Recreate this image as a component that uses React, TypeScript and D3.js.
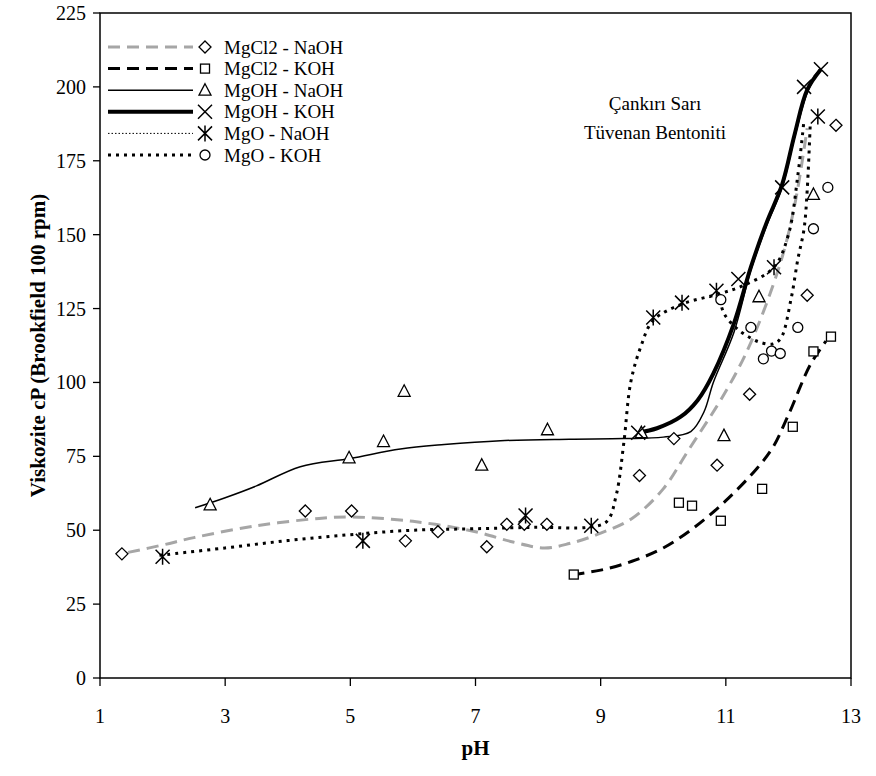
import * as d3 from 'd3';
import React from 'react';

// pH / viscosity readings, one pair of arrays per series
const mgcl2NaohPH = [1.35, 4.28, 5.02, 5.88, 6.4, 7.18, 7.5, 7.78, 8.14, 9.62, 10.17, 10.86, 11.38, 12.3, 12.76];
const mgcl2NaohV = [42, 56.5, 56.5, 46.4, 49.5, 44.4, 52, 52, 52, 68.5, 81, 72, 96, 129.5, 187];

const mgcl2KohPH = [8.57, 10.25, 10.46, 10.92, 11.58, 12.07, 12.4, 12.68];
const mgcl2KohV = [35, 59.3, 58.3, 53.2, 64, 85, 110.5, 115.5];

const mgohNaohPH = [2.76, 4.98, 5.53, 5.86, 7.1, 8.15, 9.65, 10.97, 11.53, 12.4];
const mgohNaohV = [58.6, 74.5, 80, 97, 72, 84, 83, 82, 129, 163.6];

const mgohKohPH = [9.6, 11.2, 11.9, 12.25, 12.52];
const mgohKohV = [83, 135, 166, 200, 206];

const mgoNaohPH = [2.0, 5.2, 7.8, 8.85, 9.84, 10.3, 10.85, 11.77, 12.47];
const mgoNaohV = [41, 46.4, 55, 51.5, 122, 127, 131, 139, 190];

const mgoKohPH = [10.92, 11.4, 11.6, 11.73, 11.87, 12.15, 12.4, 12.63];
const mgoKohV = [128, 118.6, 108, 110.6, 109.8, 118.6, 152, 166];

// fitted curves as drawn in the figure
const fitMgcl2NaohPH = [1.45, 2.0, 2.5, 3.5, 4.5, 5.0, 6.0, 7.0, 7.6, 8.1, 8.5, 9.0, 9.5, 10.0, 10.4, 11.0, 11.4, 11.88, 12.1, 12.3];
const fitMgcl2NaohV = [42.5, 45, 47.5, 51.5, 54, 54.5, 53, 49.5, 46, 44, 45.5, 49, 54, 64, 77, 97, 113.5, 141, 160, 186];

const fitMgcl2KohPH = [8.55, 9.0, 9.5, 10.0, 10.5, 11.0, 11.5, 11.75, 12.0, 12.35, 12.6];
const fitMgcl2KohV = [35, 36.5, 39.5, 44, 51, 60, 71, 78, 89, 106, 114];

const fitMgohNaohPH = [2.52, 3.0, 3.5, 4.2, 5.0, 5.8, 6.5, 7.4, 8.5, 9.37, 10.0, 10.44, 10.65, 10.8, 11.13, 11.4, 11.65, 11.9, 12.1, 12.3, 12.5];
const fitMgohNaohV = [57.6, 61, 65, 71.5, 74.3, 77.5, 79, 80.3, 80.8, 81, 81.5, 83.4, 90, 100, 117, 138, 153, 166, 183, 198, 206];

const fitMgohKohPH = [9.6, 9.9, 10.28, 10.55, 10.8, 11.13, 11.4, 11.65, 11.9, 12.1, 12.3, 12.52];
const fitMgohKohV = [83, 84.5, 88.4, 94, 103, 120, 139, 154, 167, 184, 199, 206];

const fitMgoNaohPH = [1.95, 3.0, 4.0, 5.0, 6.0, 7.0, 8.0, 8.8, 9.1, 9.25, 9.37, 9.48, 9.64, 9.84, 10.3, 10.9, 11.3, 11.77, 12.0, 12.15, 12.25];
const fitMgoNaohV = [41.5, 44, 46.5, 48.5, 50, 50.5, 51, 51, 53, 62, 79.6, 100, 112, 121, 126.5, 130, 133, 139, 150, 170, 189];

const fitMgoKohPH = [10.9, 10.98, 11.19, 11.4, 11.56, 11.75, 11.88, 12.04, 12.15, 12.25, 12.3, 12.35];
const fitMgoKohV = [128, 123, 118, 115, 113.5, 113, 115, 128, 141.6, 152, 165, 188];

const xTicks = [1, 3, 5, 7, 9, 11, 13];
const yTicks = [0, 25, 50, 75, 100, 125, 150, 175, 200, 225];

const legendNames = ['MgCl2 - NaOH', 'MgCl2 - KOH', 'MgOH - NaOH', 'MgOH - KOH', 'MgO - NaOH', 'MgO - KOH'];

const W = 876;
const H = 776;
const FONT = '"Liberation Serif", "Times New Roman", serif';

const x = d3.scaleLinear().domain([1, 13]).range([100, 851]);
const y = d3.scaleLinear().domain([0, 225]).range([678, 13]);

const line = d3
  .line<[number, number]>()
  .x((d) => x(d[0]))
  .y((d) => y(d[1]))
  .curve(d3.curveCatmullRom.alpha(0.5));

const zip = (a: number[], b: number[]): [number, number][] => a.map((v, i) => [v, b[i]]);

type Shape = 'diamond' | 'square' | 'triangle' | 'x' | 'star' | 'circle';

const Marker = ({ shape, cx, cy }: { shape: Shape; cx: number; cy: number }) => {
  const s = { fill: 'white', stroke: 'black', strokeWidth: 1.3 };
  switch (shape) {
    case 'diamond':
      return <path d={`M${cx},${cy - 6}L${cx + 6},${cy}L${cx},${cy + 6}L${cx - 6},${cy}Z`} {...s} />;
    case 'square':
      return <rect x={cx - 4.5} y={cy - 4.5} width={9} height={9} {...s} />;
    case 'triangle':
      return <path d={`M${cx},${cy - 6.5}L${cx + 6},${cy + 5}L${cx - 6},${cy + 5}Z`} {...s} />;
    case 'circle':
      return <circle cx={cx} cy={cy} r={5} {...s} />;
    case 'x':
      return (
        <path
          d={`M${cx - 7},${cy - 7}L${cx + 7},${cy + 7}M${cx - 7},${cy + 7}L${cx + 7},${cy - 7}`}
          stroke="black"
          strokeWidth={1.5}
          fill="none"
        />
      );
    case 'star':
      return (
        <path
          d={`M${cx - 7},${cy - 7}L${cx + 7},${cy + 7}M${cx - 7},${cy + 7}L${cx + 7},${cy - 7}M${cx},${cy - 8}L${cx},${cy + 8}`}
          stroke="black"
          strokeWidth={1.5}
          fill="none"
        />
      );
  }
  return null;
};

const styles = [
  { stroke: '#a6a6a6', strokeWidth: 3, dash: '12,7' },
  { stroke: 'black', strokeWidth: 3, dash: '12,7' },
  { stroke: 'black', strokeWidth: 1.5, dash: undefined },
  { stroke: 'black', strokeWidth: 4, dash: undefined },
  { stroke: 'black', strokeWidth: 3, dash: '3,5' },
  { stroke: 'black', strokeWidth: 3, dash: '3,5' },
];
const legendStyles = [
  styles[0],
  styles[1],
  styles[2],
  styles[3],
  { stroke: 'black', strokeWidth: 1, dash: '1.5,2' },
  styles[5],
];
const shapes: Shape[] = ['diamond', 'square', 'triangle', 'x', 'star', 'circle'];

const fits = [
  zip(fitMgcl2NaohPH, fitMgcl2NaohV),
  zip(fitMgcl2KohPH, fitMgcl2KohV),
  zip(fitMgohNaohPH, fitMgohNaohV),
  zip(fitMgohKohPH, fitMgohKohV),
  zip(fitMgoNaohPH, fitMgoNaohV),
  zip(fitMgoKohPH, fitMgoKohV),
];
const points = [
  zip(mgcl2NaohPH, mgcl2NaohV),
  zip(mgcl2KohPH, mgcl2KohV),
  zip(mgohNaohPH, mgohNaohV),
  zip(mgohKohPH, mgohKohV),
  zip(mgoNaohPH, mgoNaohV),
  zip(mgoKohPH, mgoKohV),
];

export default function App() {
  const [x0, x1] = x.range();
  const [y0, y1] = y.range();
  return (
    <svg width={W} height={H} style={{ position: 'absolute', left: 0, top: 0, background: 'white' }}>
      <rect x={0} y={0} width={W} height={H} fill="white" />
      {/* frame */}
      <rect x={x0} y={y1} width={x1 - x0} height={y0 - y1} fill="none" stroke="black" strokeWidth={1.5} />
      {/* y ticks */}
      {yTicks.map((t) => (
        <g key={'y' + t}>
          <line x1={x0 - 7} x2={x0} y1={y(t)} y2={y(t)} stroke="black" strokeWidth={1.3} />
          <text x={x0 - 14} y={y(t)} dy="0.35em" textAnchor="end" fontFamily={FONT} fontSize={20}>
            {t}
          </text>
        </g>
      ))}
      {/* x ticks */}
      {xTicks.map((t) => (
        <g key={'x' + t}>
          <line x1={x(t)} x2={x(t)} y1={y0} y2={y0 + 8} stroke="black" strokeWidth={1.3} />
          <text x={x(t)} y={y0 + 45} textAnchor="middle" fontFamily={FONT} fontSize={20}>
            {t}
          </text>
        </g>
      ))}
      <text x={(x0 + x1) / 2} y={755} textAnchor="middle" fontFamily={FONT} fontSize={21} fontWeight="bold">
        pH
      </text>
      <text
        transform={`translate(45,${(y0 + y1) / 2}) rotate(-90)`}
        textAnchor="middle"
        fontFamily={FONT}
        fontSize={21}
        fontWeight="bold"
      >
        Viskozite cP (Brookfield 100 rpm)
      </text>

      {/* fitted curves */}
      {fits.map((f, i) => (
        <path
          key={'f' + i}
          d={line(f) || ''}
          fill="none"
          stroke={styles[i].stroke}
          strokeWidth={styles[i].strokeWidth}
          strokeDasharray={styles[i].dash}
        />
      ))}
      {/* markers */}
      {points.map((p, i) =>
        p.map((d, j) => <Marker key={`m${i}-${j}`} shape={shapes[i]} cx={x(d[0])} cy={y(d[1])} />)
      )}

      {/* legend */}
      {legendNames.map((name, i) => {
        const ly = 47 + i * 21.6;
        return (
          <g key={'l' + i}>
            <line
              x1={108}
              x2={193}
              y1={ly}
              y2={ly}
              stroke={legendStyles[i].stroke}
              strokeWidth={legendStyles[i].strokeWidth}
              strokeDasharray={legendStyles[i].dash}
            />
            <Marker shape={shapes[i]} cx={205} cy={ly} />
            <text x={224} y={ly} dy="0.35em" fontFamily={FONT} fontSize={19}>
              {name}
            </text>
          </g>
        );
      })}

      <text x={655} y={103} dy="0.35em" textAnchor="middle" fontFamily={FONT} fontSize={19}>
        Çankırı Sarı
      </text>
      <text x={655} y={132} dy="0.35em" textAnchor="middle" fontFamily={FONT} fontSize={19}>
        Tüvenan Bentoniti
      </text>
    </svg>
  );
}
